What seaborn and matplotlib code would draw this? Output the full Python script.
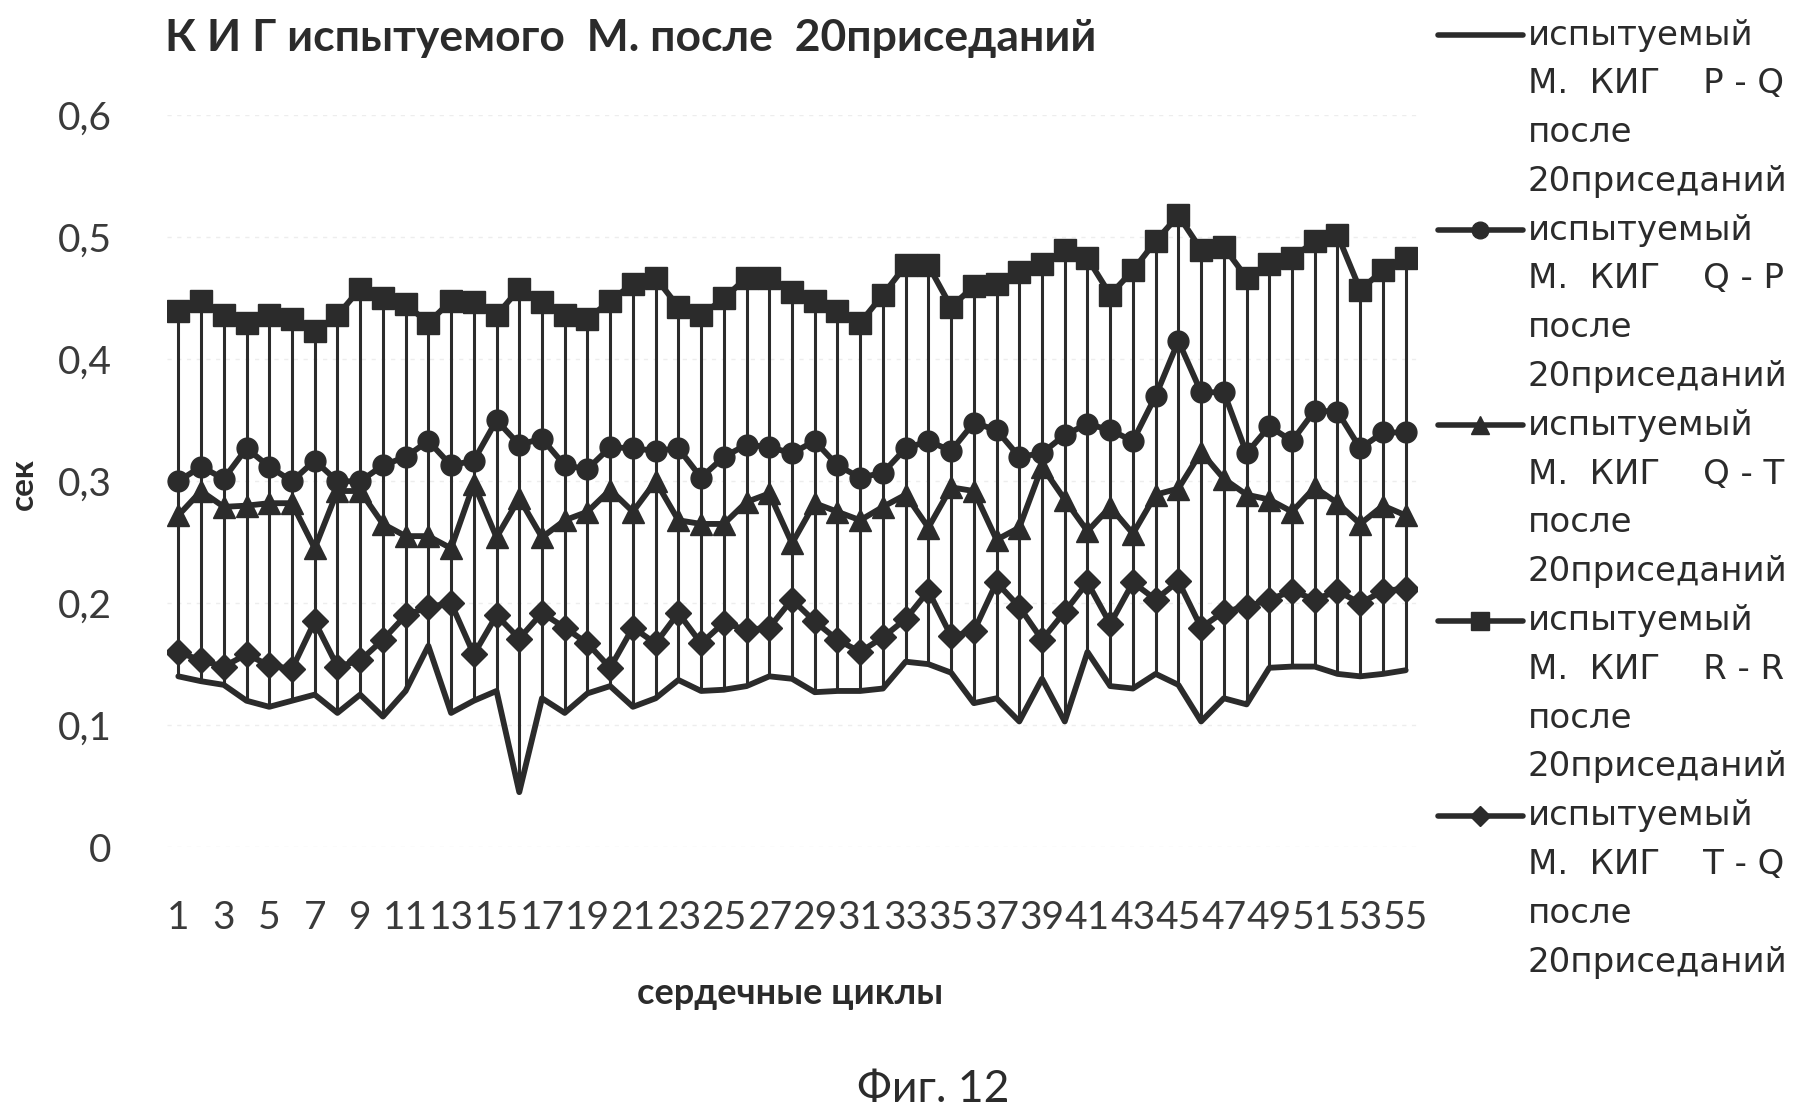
import matplotlib
matplotlib.use("Agg")
import matplotlib.font_manager as fm
import matplotlib.pyplot as plt
import numpy as np
import seaborn as sns
from matplotlib.lines import Line2D

# --- DATA ---
cycles = list(range(1, 56))

pq = [0.140, 0.136, 0.133, 0.120, 0.115, 0.120, 0.125, 0.110, 0.125, 0.107,
      0.128, 0.165, 0.110, 0.120, 0.128, 0.045, 0.122, 0.110, 0.126, 0.132,
      0.115, 0.122, 0.137, 0.128, 0.129, 0.132, 0.140, 0.138, 0.127, 0.128,
      0.128, 0.130, 0.152, 0.150, 0.143, 0.118, 0.122, 0.103, 0.138, 0.103,
      0.160, 0.132, 0.130, 0.142, 0.133, 0.103, 0.122, 0.117, 0.147, 0.148,
      0.148, 0.142, 0.140, 0.142, 0.145]

qp = [0.300, 0.312, 0.302, 0.327, 0.312, 0.300, 0.317, 0.300, 0.300, 0.313,
      0.320, 0.333, 0.313, 0.317, 0.350, 0.330, 0.335, 0.313, 0.310, 0.328,
      0.327, 0.325, 0.327, 0.303, 0.320, 0.330, 0.328, 0.323, 0.333, 0.313,
      0.303, 0.307, 0.327, 0.333, 0.325, 0.348, 0.342, 0.320, 0.323, 0.338,
      0.347, 0.342, 0.333, 0.370, 0.415, 0.373, 0.373, 0.323, 0.345, 0.333,
      0.358, 0.357, 0.327, 0.340, 0.340]

qt = [0.272, 0.292, 0.279, 0.280, 0.282, 0.282, 0.245, 0.292, 0.292, 0.265,
      0.255, 0.255, 0.245, 0.298, 0.254, 0.286, 0.254, 0.268, 0.275, 0.293,
      0.275, 0.300, 0.268, 0.265, 0.265, 0.283, 0.290, 0.249, 0.282, 0.275,
      0.268, 0.279, 0.289, 0.262, 0.295, 0.292, 0.252, 0.262, 0.312, 0.285,
      0.259, 0.279, 0.257, 0.289, 0.294, 0.324, 0.302, 0.289, 0.285, 0.275,
      0.295, 0.282, 0.265, 0.280, 0.272]

rr = [0.440, 0.448, 0.436, 0.430, 0.436, 0.433, 0.423, 0.436, 0.458, 0.450,
      0.445, 0.430, 0.448, 0.447, 0.436, 0.458, 0.447, 0.436, 0.433, 0.448,
      0.462, 0.467, 0.443, 0.436, 0.450, 0.467, 0.467, 0.455, 0.448, 0.440,
      0.430, 0.453, 0.477, 0.477, 0.443, 0.460, 0.462, 0.472, 0.478, 0.490,
      0.483, 0.453, 0.473, 0.497, 0.518, 0.490, 0.492, 0.467, 0.478, 0.483,
      0.497, 0.502, 0.457, 0.473, 0.483]

tq = [0.160, 0.153, 0.148, 0.158, 0.149, 0.146, 0.185, 0.148, 0.153, 0.170,
      0.190, 0.197, 0.200, 0.158, 0.190, 0.171, 0.192, 0.180, 0.167, 0.147,
      0.180, 0.167, 0.192, 0.167, 0.184, 0.178, 0.180, 0.203, 0.185, 0.170,
      0.160, 0.172, 0.187, 0.210, 0.173, 0.177, 0.217, 0.197, 0.170, 0.193,
      0.217, 0.183, 0.217, 0.203, 0.218, 0.180, 0.193, 0.197, 0.203, 0.210,
      0.203, 0.210, 0.200, 0.210, 0.212]

series_tags = ["P - Q", "Q - P", "Q - T", "R - R", "T - Q"]
y_ticks = [0, 0.1, 0.2, 0.3, 0.4, 0.5, 0.6]
y_tick_labels = ["0", "0,1", "0,2", "0,3", "0,4", "0,5", "0,6"]

# --- STYLE ---
INK = "#2b2b2b"
TXT = "#3a3a3a"
styles = [(None, 0), ("o", 15), ("^", 16), ("s", 16), ("D", 13)]


def pick_font(*names):
    for n in names:
        try:
            fm.findfont(fm.FontProperties(family=n), fallback_to_default=False)
            return n
        except ValueError:
            pass
    return "DejaVu Sans"


sns.set_style("white")
narrow = pick_font("Liberation Sans Narrow", "Lato")
wide = pick_font("DejaVu Sans")
plt.rcParams["font.family"] = [narrow, "DejaVu Sans"]

fig = plt.figure(figsize=(18.07, 11.17), dpi=100)
ax = fig.add_axes([0.0924, 0.2417, 0.6918, 0.6549])

# high-low lines between the lowest and highest value of each cycle
all_series = [pq, qp, qt, rr, tq]
hi = np.max(all_series, axis=0)
lo = np.min(all_series, axis=0)
ax.vlines(cycles, lo, hi, color=INK, lw=2.2, zorder=2)

for vals, (mk, ms) in zip(all_series, styles):
    sns.lineplot(x=cycles, y=vals, ax=ax, color=INK, lw=4.2, marker=mk,
                 markersize=ms, markeredgecolor=INK, markeredgewidth=1,
                 legend=False, zorder=3)

ax.set_xlim(0.5, 55.5)
ax.set_ylim(0, 0.6)
ax.set_yticks(y_ticks)
ax.set_yticklabels(y_tick_labels)
ax.set_xticks(cycles[::2])
ax.set_xticklabels([str(c) for c in cycles[::2]])
ax.set_xlabel("")
ax.set_ylabel("")
for s in ax.spines.values():
    s.set_visible(False)
ax.grid(axis="y", color="#ededed", lw=1, ls=(0, (3, 4)))
ax.set_axisbelow(True)
ax.tick_params(axis="y", length=0, pad=40, labelsize=28, labelcolor=TXT)
ax.tick_params(axis="x", length=0, pad=38, labelsize=28, labelcolor=TXT)

# titles and axis captions
fig.text(165 / 1807, 1 - 38 / 1117, "К И Г испытуемого  М. после  20приседаний",
         fontsize=32, fontweight="bold", color=INK, ha="left", va="center")
fig.text(23 / 1807, 1 - 484 / 1117, "сек", rotation=90, fontsize=24,
         fontweight="bold", color=INK, ha="center", va="center")
fig.text(790 / 1807, 1 - 993 / 1117, "сердечные циклы", fontsize=26,
         fontweight="bold", color=INK, ha="center", va="center")
fig.text(933 / 1807, 1 - 1089 / 1117, "Фиг. 12", fontsize=32,
         color=INK, ha="center", va="center")

# legend drawn by hand: key sits on the first text line of every entry
line_pitch = 48.8
for i, (tag, (mk, ms)) in enumerate(zip(series_tags, styles)):
    y0 = 35 + i * 4 * line_pitch
    fy = 1 - y0 / 1117
    fig.add_artist(Line2D([1438 / 1807, 1523 / 1807], [fy, fy], color=INK,
                          lw=4.0, transform=fig.transFigure))
    if mk:
        fig.add_artist(Line2D([1480 / 1807], [fy], marker=mk, markersize=ms - 3,
                              color=INK, transform=fig.transFigure))
    lines = ["испытуемый", "М.  КИГ    " + tag, "после", "20приседаний"]
    for k, t in enumerate(lines):
        fig.text(1528 / 1807, 1 - (y0 + k * line_pitch) / 1117, t,
                 family=wide, fontsize=24.5, color=INK, ha="left", va="center")

fig.savefig("out.png", dpi=100)
